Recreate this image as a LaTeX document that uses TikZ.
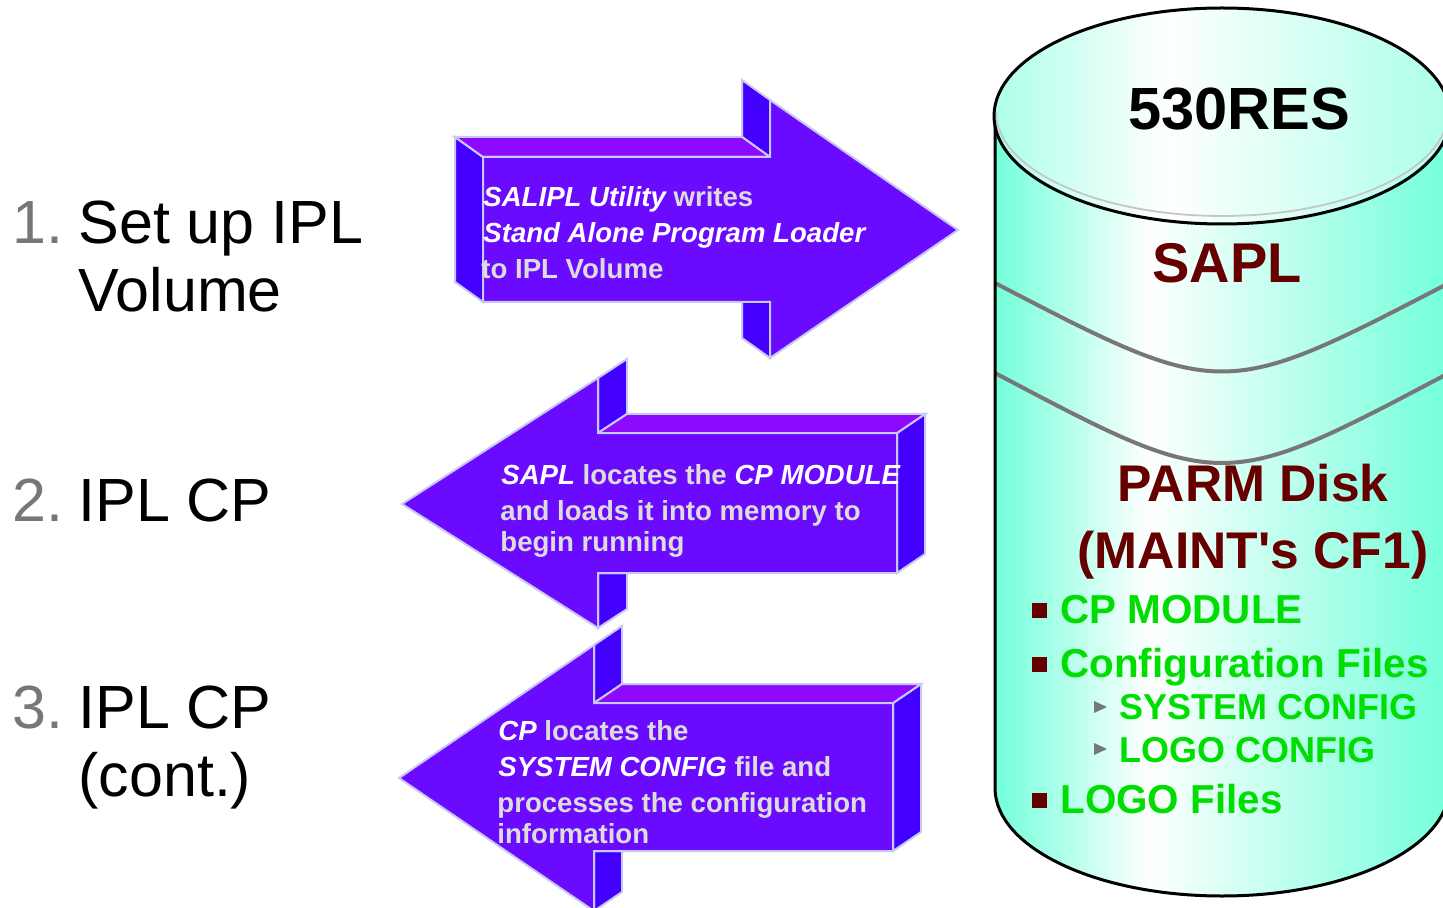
\documentclass[tikz,border=0pt]{standalone}
\usepackage{fontspec}
\setmainfont{Liberation Sans}
\definecolor{arrowfront}{HTML}{6A0AFF}
\definecolor{arrowtop}{HTML}{8E0AFF}
\definecolor{arrowside}{HTML}{4400FF}
\definecolor{arrowrim}{HTML}{C8C8F5}
\definecolor{arrowgray}{HTML}{DCDCDC}
\definecolor{numgray}{HTML}{777777}
\definecolor{drumaqua}{HTML}{72FFDA}
\definecolor{drumtopaqua}{HTML}{ACFFE9}
\definecolor{diskred}{HTML}{660000}
\definecolor{filegreen}{HTML}{00DD00}
\definecolor{bandgray}{HTML}{777777}
\pgfdeclarehorizontalshading{drumside}{100bp}{color(0bp)=(drumaqua); color(25bp)=(drumaqua); color(42bp)=(white); color(75bp)=(drumaqua); color(100bp)=(drumaqua)}
\pgfdeclarehorizontalshading{drumtop}{100bp}{color(0bp)=(drumtopaqua); color(25bp)=(drumtopaqua); color(44bp)=(white); color(75bp)=(drumtopaqua); color(100bp)=(drumtopaqua)}
\newcommand{\emword}[1]{{\color{white}\itshape #1}}
\begin{document}
\begin{tikzpicture}[x=0.5pt,y=-0.5pt]
        \tikzset{
          frontface/.style={fill=arrowfront,draw=arrowrim,line width=1pt},
          topface/.style={fill=arrowtop,draw=arrowrim,line width=1pt},
          sideface/.style={fill=arrowside,draw=arrowrim,line width=1pt},
          arrowtext/.style={anchor=base west,inner sep=0pt,text=arrowgray,font=\fontsize{13.8}{16}\selectfont\bfseries},
          steptext/.style={anchor=base west,inner sep=0pt,font=\fontsize{30.5}{36}\selectfont},
          drumline/.style={draw=black,line width=1.5pt},
          band/.style={draw=bandgray,line width=2pt},
          bullet/.style={rectangle,fill=diskred,inner sep=0pt,minimum size=7.5pt},
          filetext/.style={anchor=base west,inner sep=0pt,text=filegreen,font=\fontsize{20.2}{24}\selectfont\bfseries},
          subfiletext/.style={anchor=base west,inner sep=0pt,text=filegreen,font=\fontsize{18}{22}\selectfont\bfseries}
        }
        \useasboundingbox (0,0) rectangle (1443,908);

        %STEPS
        \node[steptext,text=numgray] (num1) at (12,244) {1.};
        \node[steptext] (step1) at (78,244) {Set up IPL};
        \node[steptext] (step1b) at (78,312) {Volume};
        \node[steptext,text=numgray] (num2) at (12,521) {2.};
        \node[steptext] (step2) at (78,521) {IPL CP};
        \node[steptext,text=numgray] (num3) at (12,728) {3.};
        \node[steptext] (step3) at (78,728) {IPL CP};
        \node[steptext] (step3b) at (78,796) {(cont.)};

        %ARROW 1
        \filldraw[sideface] (455,137) -- (483,157) -- (483,302) -- (455,282) -- cycle;
        \filldraw[sideface] (742,80) -- (770,100) -- (770,157) -- (742,137) -- cycle;
        \filldraw[sideface] (742,302) -- (770,302) -- (770,358) -- (742,338) -- cycle;
        \filldraw[topface] (455,137) -- (742,137) -- (770,157) -- (483,157) -- cycle;
        \filldraw[frontface] (483,157) -- (770,157) -- (770,100) -- (958,230) -- (770,358) -- (770,302) -- (483,302) -- cycle;
        \node[arrowtext] (salipl1) at (483,207) {\emword{SALIPL Utility} writes};
        \node[arrowtext] (salipl2) at (483,243) {\emword{Stand Alone Program Loader}};
        \node[arrowtext] (salipl3) at (481,279) {to IPL Volume};

        %ARROW 2
        \filldraw[sideface] (598,378) -- (627,359) -- (627,414) -- (598,433) -- cycle;
        \filldraw[sideface] (598,573) -- (627,573) -- (627,609) -- (598,628) -- cycle;
        \filldraw[sideface] (897,433) -- (925,414) -- (925,554) -- (897,573) -- cycle;
        \filldraw[topface] (598,433) -- (627,414) -- (925,414) -- (897,433) -- cycle;
        \filldraw[frontface] (402,504) -- (598,378) -- (598,433) -- (897,433) -- (897,573) -- (598,573) -- (598,628) -- cycle;
        \node[arrowtext] (sapl1) at (501,484) {\emword{SAPL} locates the \emword{CP MODULE}};
        \node[arrowtext] (sapl2) at (500,520) {and loads it into memory to};
        \node[arrowtext] (sapl3) at (500,551) {begin running};

        %ARROW 3
        \filldraw[sideface] (594,645) -- (622,626) -- (622,684) -- (594,703) -- cycle;
        \filldraw[sideface] (594,851) -- (622,851) -- (622,892) -- (594,911) -- cycle;
        \filldraw[sideface] (893,703) -- (921,684) -- (921,832) -- (893,851) -- cycle;
        \filldraw[topface] (594,703) -- (622,684) -- (921,684) -- (893,703) -- cycle;
        \filldraw[frontface] (399,778) -- (594,645) -- (594,703) -- (893,703) -- (893,851) -- (594,851) -- (594,911) -- cycle;
        \node[arrowtext] (cp1) at (498,740) {\emword{CP} locates the};
        \node[arrowtext] (cp2) at (498,776) {\emword{SYSTEM CONFIG} file and};
        \node[arrowtext] (cp3) at (497,812) {processes the configuration};
        \node[arrowtext] (cp4) at (497,843) {information};

        %DISK
        \shade[shading=drumside] (995,116) -- (995,788) arc[start angle=180,end angle=0,x radius=227,y radius=108] -- (1449,116) -- cycle;
        \draw[band] (995,283) .. controls (1222,401) .. (1449,283);
        \draw[band] (995,373) .. controls (1222,493) .. (1449,373);
        \draw[drumline] (995,116) -- (995,788) arc[start angle=180,end angle=0,x radius=227,y radius=108] -- (1449,116);
        \shade[shading=drumtop] (1222,116) ellipse[x radius=228,y radius=108];
        \draw[gray!45,line width=0.9pt] (996,112) arc[start angle=180,end angle=0,x radius=226,y radius=104];
        \draw[drumline] (1222,116) ellipse[x radius=228,y radius=108];

        \node[anchor=base,inner sep=0pt,font=\fontsize{29.8}{34}\selectfont\bfseries] (res) at (1239,130) {530RES};
        \node[anchor=base,inner sep=0pt,text=diskred,font=\fontsize{28}{32}\selectfont\bfseries] (sapl) at (1227,283) {SAPL};
        \node[anchor=base,inner sep=0pt,text=diskred,font=\fontsize{25.8}{30}\selectfont\bfseries] (parm) at (1253,501) {PARM Disk};
        \node[anchor=base,inner sep=0pt,text=diskred,font=\fontsize{25.8}{30}\selectfont\bfseries] (maint) at (1253,568) {(MAINT\textquotesingle s CF1)};

        \node[bullet] (bul1) at (1039,610) {};
        \node[filetext] (cpmod) at (1060,623) {CP MODULE};
        \node[bullet] (bul2) at (1039,664) {};
        \node[filetext] (conf) at (1060,677) {Configuration Files};
        \fill[numgray] (1094,701) -- (1107,707) -- (1094,713) -- cycle;
        \node[subfiletext] (sysconf) at (1119,719) {SYSTEM CONFIG};
        \fill[numgray] (1094,743) -- (1107,749) -- (1094,755) -- cycle;
        \node[subfiletext] (logoconf) at (1119,762) {LOGO CONFIG};
        \node[bullet] (bul3) at (1039,800) {};
        \node[filetext] (logo) at (1060,813) {LOGO Files};
    \end{tikzpicture}
\end{document}
